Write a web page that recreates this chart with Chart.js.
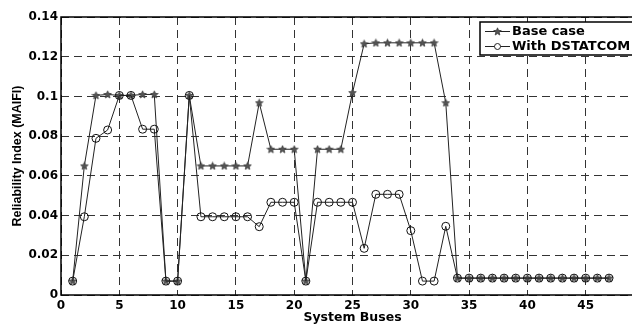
<!DOCTYPE html>
<html>
<head>
<meta charset="utf-8">
<script src="https://cdn.jsdelivr.net/npm/chart.js@4"></script>
<style>
  html, body { margin: 0; padding: 0; background: #fff; overflow: hidden; }
  #wrap { width: 650px; height: 325px; }
</style>
</head>
<body>
<div id="wrap"><canvas id="myChart" width="650" height="325"></canvas></div>
<script>
// bus numbers 1..47
const buses = [1, 2, 3, 4, 5, 6, 7, 8, 9, 10, 11, 12, 13, 14, 15, 16, 17, 18, 19, 20,
               21, 22, 23, 24, 25, 26, 27, 28, 29, 30, 31, 32, 33, 34, 35, 36, 37, 38, 39, 40,
               41, 42, 43, 44, 45, 46, 47];

const baseCase = [0.007, 0.065, 0.1005, 0.101, 0.1005, 0.1005, 0.101, 0.101, 0.007, 0.007,
                  0.1005, 0.065, 0.065, 0.065, 0.065, 0.065, 0.0968, 0.0734, 0.0734, 0.0734,
                  0.007, 0.0734, 0.0734, 0.0734, 0.1019, 0.1265, 0.127, 0.127, 0.127, 0.127,
                  0.127, 0.127, 0.0968, 0.0085, 0.0085, 0.0085, 0.0085, 0.0085, 0.0085, 0.0085,
                  0.0085, 0.0085, 0.0085, 0.0085, 0.0085, 0.0085, 0.0085];

const withDstatcom = [0.007, 0.0394, 0.0789, 0.0831, 0.1005, 0.1005, 0.0835, 0.0835, 0.007, 0.007,
                      0.1005, 0.0394, 0.0394, 0.0394, 0.0394, 0.0394, 0.0344, 0.0467, 0.0467, 0.0467,
                      0.007, 0.0467, 0.0467, 0.0467, 0.0467, 0.0235, 0.0507, 0.0507, 0.0507, 0.0324,
                      0.007, 0.007, 0.0346, 0.0085, 0.0085, 0.0085, 0.0085, 0.0085, 0.0085, 0.0085,
                      0.0085, 0.0085, 0.0085, 0.0085, 0.0085, 0.0085, 0.0085];

const seriesNames = ['Base case', 'With DSTATCOM'];
const yTicks = [0, 0.02, 0.04, 0.06, 0.08, 0.1, 0.12, 0.14];
const xTicks = [0, 5, 10, 15, 20, 25, 30, 35, 40, 45];

// filled star marker
function makeStar(size) {
    const c = document.createElement('canvas');
    c.width = size; c.height = size;
    const g = c.getContext('2d');
    const cx = size / 2, cy = size / 2 + 0.3, ro = size / 2 - 0.5, ri = ro * 0.45;
    g.beginPath();
    for (let i = 0; i < 10; i++) {
        const r = i % 2 === 0 ? ro : ri;
        const a = -Math.PI / 2 + i * Math.PI / 5;
        const px = cx + r * Math.cos(a), py = cy + r * Math.sin(a);
        if (i === 0) g.moveTo(px, py); else g.lineTo(px, py);
    }
    g.closePath();
    g.fillStyle = '#555';
    g.fill();
    g.lineWidth = 0.7;
    g.strokeStyle = '#333';
    g.stroke();
    return c;
}
const star = makeStar(9);

const boxPlugin = {
    id: 'boxPlugin',
    beforeDatasetsDraw(chart) {
        const a = chart.chartArea, ctx = chart.ctx;
        ctx.save();
        ctx.strokeStyle = '#000';
        ctx.lineWidth = 1.5;
        ctx.strokeRect(a.left, a.top, a.right - a.left, a.bottom - a.top);
        ctx.restore();
    },
    afterDraw(chart) {
        const ctx = chart.ctx;
        ctx.save();
        ctx.fillStyle = '#fff';
        ctx.fillRect(480, 22, 200, 33);
        ctx.strokeStyle = '#000';
        ctx.lineWidth = 1.5;
        ctx.strokeRect(480, 22, 200, 33);
        const rows = [31.5, 46.5];
        ctx.font = 'bold 13px "DejaVu Sans"';
        ctx.textBaseline = 'middle';
        rows.forEach((y, i) => {
            ctx.strokeStyle = '#222';
            ctx.lineWidth = 1;
            ctx.beginPath();
            ctx.moveTo(485, y); ctx.lineTo(510, y);
            ctx.stroke();
            if (i === 0) {
                ctx.drawImage(star, 497.5 - 4.5, y - 4.5);
            } else {
                ctx.beginPath();
                ctx.arc(497.5, y, 3, 0, Math.PI * 2);
                ctx.fillStyle = '#fff';
                ctx.fill();
                ctx.stroke();
            }
            ctx.fillStyle = '#000';
            ctx.fillText(seriesNames[i], 512, y + 0.5);
        });
        ctx.restore();
    }
};

const ctx = document.getElementById('myChart').getContext('2d');
const myChart = new Chart(ctx, {
    type: 'line',
    data: {
        datasets: [{
            label: seriesNames[0],
            data: buses.map((b, i) => ({ x: b, y: baseCase[i] })),
            borderColor: '#222',
            borderWidth: 1,
            pointStyle: star,
            pointRadius: 4,
            order: 1
        }, {
            label: seriesNames[1],
            data: buses.map((b, i) => ({ x: b, y: withDstatcom[i] })),
            borderColor: '#222',
            borderWidth: 1,
            pointStyle: 'circle',
            pointRadius: 4,
            pointBorderWidth: 1,
            pointBorderColor: '#111',
            pointBackgroundColor: 'rgba(255,255,255,0)',
            order: 0
        }]
    },
    options: {
        responsive: false,
        animation: false,
        events: [],
        layout: { padding: { top: 17, right: 6, left: 0, bottom: 0 } },
        plugins: {
            legend: { display: false },
            tooltip: { enabled: false }
        },
        scales: {
            x: {
                type: 'linear',
                min: 0,
                max: 50,
                afterFit: s => { s.height = 30; },
                afterBuildTicks: s => { s.ticks = xTicks.map(v => ({ value: v })); },
                ticks: {
                    padding: 4,
                    color: '#000',
                    font: { family: 'DejaVu Sans', size: 12, weight: 'bold' },
                    maxRotation: 0
                },
                grid: {
                    color: '#333',
                    lineWidth: 1,
                    drawTicks: false
                },
                border: { display: false, dash: [8, 5] },
                title: {
                    display: true,
                    text: 'System Buses',
                    color: '#000',
                    padding: 0,
                    font: { family: 'DejaVu Sans', size: 12.5, weight: 'bold', lineHeight: 1.1 }
                }
            },
            y: {
                min: 0,
                max: 0.14,
                afterFit: s => { s.width = 61; },
                afterBuildTicks: s => { s.ticks = yTicks.map(v => ({ value: v })); },
                ticks: {
                    padding: 3,
                    color: '#000',
                    font: { family: 'DejaVu Sans', size: 12, weight: 'bold' },
                    callback: v => String(+v.toFixed(2))
                },
                grid: {
                    color: '#333',
                    lineWidth: 1,
                    drawTicks: false
                },
                border: { display: false, dash: [8, 5] },
                title: {
                    display: true,
                    text: 'Reliability Index (MAIFI)',
                    color: '#000',
                    padding: { top: 10, bottom: 0 },
                    font: { family: 'Liberation Sans', size: 12.5, weight: 'bold' }
                }
            }
        }
    },
    plugins: [boxPlugin]
});
</script>
</body>
</html>
